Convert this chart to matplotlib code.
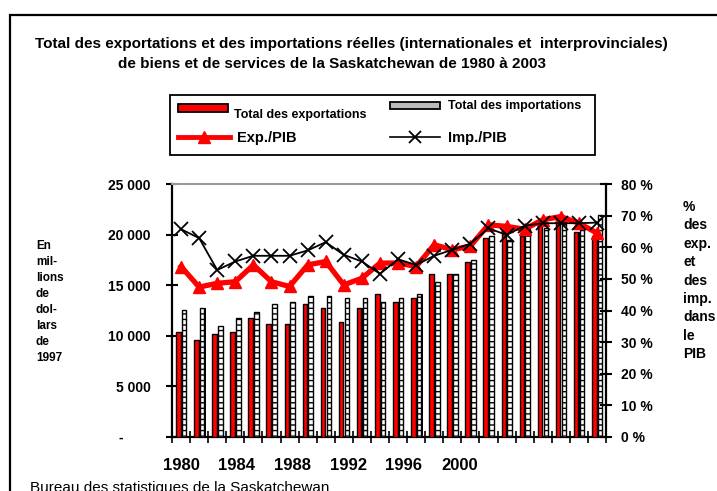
import matplotlib
matplotlib.use("Agg")
import matplotlib.pyplot as plt
import numpy as np
from matplotlib.patches import Rectangle
from matplotlib.lines import Line2D

plt.rcParams['font.family'] = ['Liberation Sans', 'DejaVu Sans']
plt.rcParams['font.weight'] = 'bold'
plt.rcParams['hatch.linewidth'] = 1.0

years = list(range(1980, 2004))
exports = [10340, 9550, 10180, 10340, 11730, 11160, 11160, 13140, 12710, 11330,
           12710, 14100, 13300, 13700, 16100, 16070, 17300, 19650, 20200, 19860,
           21100, 21500, 20300, 19850]
imports = [12550, 12710, 10970, 11760, 12320, 13110, 13300, 13930, 13930, 13730,
           13730, 13300, 13730, 14100, 15350, 16070, 17490, 19880, 19500, 20600,
           20700, 21000, 20800, 21900]
exp_pib = [53.9, 47.4, 48.6, 49.1, 54.4, 49.1, 47.6, 54.4, 55.5, 48.1,
           50.2, 55.0, 55.0, 53.9, 60.8, 59.2, 60.4, 67.1, 66.6, 65.7,
           68.7, 69.7, 67.6, 64.5]
imp_pib = [65.7, 62.9, 52.8, 55.5, 57.3, 57.3, 57.3, 59.0, 61.6, 57.6,
           55.5, 51.6, 56.2, 54.4, 57.3, 59.2, 61.1, 66.0, 63.9, 66.8,
           67.6, 67.6, 67.6, 67.8]
year_labels = ['1980', '1984', '1988', '1992', '1996', '2000']
left_ticks = [0, 5000, 10000, 15000, 20000, 25000]
left_ticklabels = ['-       ', '5 000', '10 000', '15 000', '20 000', '25 000']
right_ticks = [0, 10, 20, 30, 40, 50, 60, 70, 80]

W, H = 717, 491
fig = plt.figure(figsize=(W / 100, H / 100), dpi=100)

def fx(x):
    return x / W

def fy(y):
    return 1 - y / H

# outer frame
fig.patches.append(Rectangle((fx(10), fy(600)), 1.2, fy(15) - fy(600),
                             transform=fig.transFigure, fill=False,
                             edgecolor='black', linewidth=1.6, clip_on=False))

ax = fig.add_axes([fx(172), fy(437), fx(606) - fx(172), fy(184) - fy(437)])
x = np.arange(len(years))

bw = 0.25
# shadows
ax.bar(x - 0.15 + 0.06, exports, width=bw, color='black', zorder=2)
ax.bar(x + 0.17 + 0.06, imports, width=bw, color='black', zorder=2)
ax.bar(x - 0.15, exports, width=bw, color='#ff0000', edgecolor='black',
       linewidth=1.0, zorder=3)
ax.bar(x + 0.17, imports, width=bw, color='white', edgecolor='black',
       linewidth=1.0, hatch='---', zorder=3)

ax.set_xlim(-0.5, len(years) - 0.5)
ax.set_ylim(0, 25000)
ax.set_yticks(left_ticks)
ax.set_yticklabels(left_ticklabels, fontsize=10, fontweight='bold')
ax.tick_params(axis='y', direction='inout', length=9, width=1.5, pad=11)
ax.set_xticks(np.arange(len(year_labels)) * 3.08)
ax.set_xticklabels(year_labels, fontsize=12, fontweight='bold')
ax.set_xticks(np.arange(-0.5, len(years)), minor=True)
ax.tick_params(axis='x', which='major', length=0, pad=15)
ax.tick_params(axis='x', which='minor', direction='inout', length=8, width=1.2)
for s in ['left', 'bottom']:
    ax.spines[s].set_linewidth(1.6)
ax.spines['top'].set_color('#999999')
ax.spines['top'].set_linewidth(1.5)
ax.spines['right'].set_visible(False)

ax2 = ax.twinx()
ax2.plot(x, exp_pib, color='#ff0000', linewidth=3.8, marker='^',
         markersize=9, zorder=4)
ax2.plot(x, imp_pib, color='black', linewidth=1.3, marker='x',
         markersize=10, markeredgewidth=1.3, zorder=5)
ax2.set_ylim(0, 80)
ax2.set_yticks(right_ticks)
ax2.set_yticklabels([f'{v} %' for v in right_ticks], fontsize=10,
                    fontweight='bold')
ax2.tick_params(axis='y', direction='inout', length=9, width=1.5, pad=6)
ax2.spines['right'].set_linewidth(1.6)
ax2.spines['top'].set_visible(False)
ax2.spines['left'].set_visible(False)
ax2.spines['bottom'].set_visible(False)

# titles
fig.text(fx(351), fy(44), 'Total des exportations et des importations réelles '
         '(internationales et  interprovinciales)', ha='center', va='center',
         fontsize=11, fontweight='bold')
fig.text(fx(332), fy(64), 'de biens et de services de la Saskatchewan de 1980 à 2003',
         ha='center', va='center', fontsize=11, fontweight='bold')

# axis labels
fig.text(fx(36), fy(240), 'En\nmil-\nlions\nde\ndol-\nlars\nde\n1997', ha='left',
         va='top', fontsize=8.5, fontweight='bold', linespacing=1.45)
fig.text(fx(683), fy(200), '%\ndes\nexp.\net\ndes\nimp.\ndans\nle\nPIB',
         ha='left', va='top', fontsize=10, fontweight='bold', linespacing=1.4)

# legend
fig.patches.append(Rectangle((fx(170), fy(155)), fx(595) - fx(170), fy(95) - fy(155),
                             transform=fig.transFigure, facecolor='white',
                             edgecolor='black', linewidth=1.3))
fig.patches.append(Rectangle((fx(178), fy(112)), fx(228) - fx(178), fy(104) - fy(112),
                             transform=fig.transFigure, facecolor='#ff0000',
                             edgecolor='black', linewidth=1.3))
fig.patches.append(Rectangle((fx(390), fy(109)), fx(440) - fx(390), fy(102) - fy(109),
                             transform=fig.transFigure, facecolor='#bbbbbb',
                             edgecolor='black', linewidth=1.3))
fig.lines.append(Line2D([fx(178), fx(230)], [fy(137), fy(137)], color='#ff0000',
                        linewidth=3.5, transform=fig.transFigure))
fig.lines.append(Line2D([fx(204)], [fy(137)], color='#ff0000', marker='^',
                        markersize=8, transform=fig.transFigure))
fig.lines.append(Line2D([fx(390), fx(440)], [fy(137), fy(137)], color='black',
                        linewidth=1.2, marker=None, transform=fig.transFigure))
fig.lines.append(Line2D([fx(415)], [fy(137)], color='black', marker='x',
                        markersize=8, markeredgewidth=1.3, transform=fig.transFigure))
fig.text(fx(234), fy(115), 'Total des exportations', ha='left', va='center',
         fontsize=9, fontweight='bold')
fig.text(fx(448), fy(106), 'Total des importations', ha='left', va='center',
         fontsize=9, fontweight='bold')
fig.text(fx(237), fy(138), 'Exp./PIB', ha='left', va='center',
         fontsize=10.5, fontweight='bold')
fig.text(fx(448), fy(138), 'Imp./PIB', ha='left', va='center',
         fontsize=10.5, fontweight='bold')

fig.text(fx(30), fy(495), 'Bureau des statistiques de la Saskatchewan',
         ha='left', va='bottom', fontsize=11, fontweight='normal')

fig.savefig('out.png', dpi=100)
